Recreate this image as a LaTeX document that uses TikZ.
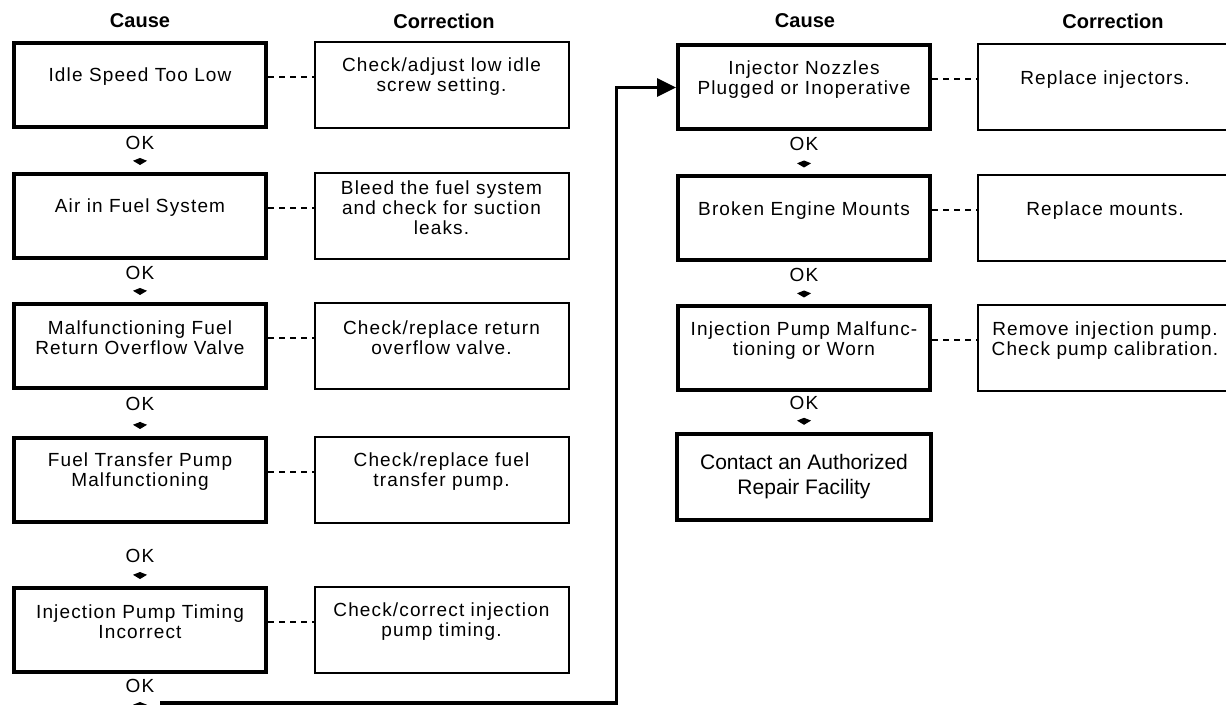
\documentclass[tikz,border=0pt]{standalone}
\usepackage{fontspec}
\setmainfont{Liberation Sans}
\newfontfamily\kutuFont{Liberation Sans}[LetterSpace=6]
\usepackage{tikz}
\usetikzlibrary{arrows.meta}

\begin{document}
\begin{tikzpicture}[x=0.5pt,y=-0.5pt,
  head/.style={font=\bfseries\fontsize{10}{12}\selectfont,inner sep=0pt},
  causebox/.style={draw,line width=2pt,minimum width=126pt,minimum height=42pt},
  fixbox/.style={draw,line width=1pt,minimum width=127pt,minimum height=43pt},
  endbox/.style={draw,line width=2.2pt,minimum width=127pt,minimum height=43pt,
                 align=center,font=\fontsize{10.5}{12.5}\selectfont},
  txt/.style={align=center,inner sep=0pt,yshift=4pt,font=\kutuFont\fontsize{9.5}{10}\selectfont},
  oktext/.style={inner sep=0pt,outer sep=0pt,font=\kutuFont\fontsize{9.5}{10}\selectfont},
  okarrow/.style={-{Kite[length=3.5pt,width=7pt,inset=1.4pt]},line width=0.6pt,
                  shorten <=5.5pt,shorten >=3.5pt},
  dots/.style={line width=1pt,dash pattern=on 3pt off 2.5pt},
  loopback/.style={line width=1.6pt,-{Triangle[length=9.5pt,width=9pt]}}]
\clip (0,0) rectangle (1226,705);
\fill[white] (0,0) rectangle (1226,705);
\node[head] (hc1) at (140,21) {Cause};
\node[head] (hf1) at (444,21) {Correction};
\node[head] (hc2) at (805,21) {Cause};
\node[head] (hf2) at (1113,21) {Correction};
\node[causebox,label={[txt]center:Idle Speed Too Low}] (idl) at (140,85) {};
\node[causebox,label={[txt]center:Air in Fuel System}] (air) at (140,216) {};
\node[causebox,label={[txt]center:Malfunctioning Fuel\\Return Overflow Valve}] (ovf) at (140,346) {};
\node[causebox,label={[txt]center:Fuel Transfer Pump\\Malfunctioning}] (xfr) at (140,480) {};
\node[causebox,label={[txt]center:Injection Pump Timing\\Incorrect}] (tmg) at (140,630) {};
\node[fixbox,label={[txt]center:Check/adjust low idle\\screw setting.}] (adj) at (441.5,85) {};
\node[fixbox,label={[txt]center:Bleed the fuel system\\and check for suction\\leaks.}] (bld) at (441.5,216) {};
\node[fixbox,label={[txt]center:Check/replace return\\overflow valve.}] (rov) at (441.5,346) {};
\node[fixbox,label={[txt]center:Check/replace fuel\\transfer pump.}] (rtp) at (441.5,480) {};
\node[fixbox,label={[txt]center:Check/correct injection\\pump timing.}] (cit) at (441.5,630) {};
\node[causebox,label={[txt]center:Injector Nozzles\\Plugged or Inoperative}] (noz) at (804,87.5) {};
\node[causebox,label={[txt]center:Broken Engine Mounts}] (mnt) at (804,218.5) {};
\node[causebox,label={[txt]center:Injection Pump Malfunc-\\tioning or Worn}] (ipm) at (804,348.5) {};
\node[endbox] (rep) at (804,477) {Contact an Authorized\\Repair Facility};
\node[fixbox,label={[txt]center:Replace injectors.}] (rin) at (1105,87.5) {};
\node[fixbox,label={[txt]center:Replace mounts.}] (rmt) at (1105,218.5) {};
\node[fixbox,label={[txt]center:Remove injection pump.\\Check pump calibration.}] (rip) at (1105,348.5) {};
\node[oktext] (ok1) at (140,143) {OK};
\node[oktext] (ok2) at (140,273) {OK};
\node[oktext] (ok3) at (140,404) {OK};
\node[oktext] (ok4) at (140,556) {OK};
\node[oktext] (ok5) at (140,686) {OK};
\node[oktext] (ok6) at (804,144) {OK};
\node[oktext] (ok7) at (804,275) {OK};
\node[oktext] (ok8) at (804,403) {OK};
\coordinate (fin) at (140,716);
\coordinate (ret) at (160,703);
\draw[okarrow] (ok1) -- (air);
\draw[okarrow] (ok2) -- (ovf);
\draw[okarrow] (ok3) -- (xfr);
\draw[okarrow] (ok4) -- (tmg);
\draw[okarrow] (ok5) -- (fin);
\draw[okarrow] (ok6) -- (mnt);
\draw[okarrow] (ok7) -- (ipm);
\draw[okarrow] (ok8) -- (rep);
\draw[dots] ([yshift=4pt]idl.east) -- ([yshift=4pt]adj.west);
\draw[dots] ([yshift=4pt]air.east) -- ([yshift=4pt]bld.west);
\draw[dots] ([yshift=4pt]ovf.east) -- ([yshift=4pt]rov.west);
\draw[dots] ([yshift=4pt]xfr.east) -- ([yshift=4pt]rtp.west);
\draw[dots] ([yshift=4pt]tmg.east) -- ([yshift=4pt]cit.west);
\draw[dots] ([yshift=4pt]noz.east) -- ([yshift=4pt]rin.west);
\draw[dots] ([yshift=4pt]mnt.east) -- ([yshift=4pt]rmt.west);
\draw[dots] ([yshift=4pt]ipm.east) -- ([yshift=4pt]rip.west);
\draw[loopback] (ret) -| ([xshift=-29.75pt]noz.west) -- (noz.west);
\end{tikzpicture}
\end{document}
